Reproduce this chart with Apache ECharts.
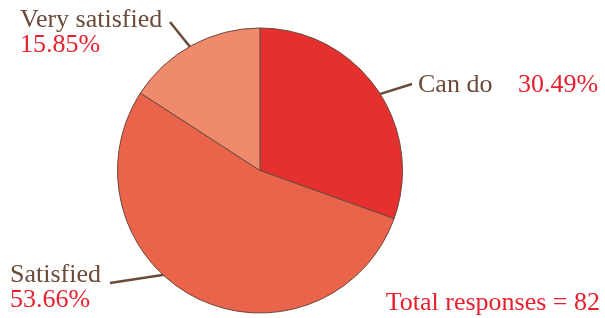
<!DOCTYPE html>
<html>
<head>
<meta charset="utf-8">
<script src="https://cdn.jsdelivr.net/npm/echarts@6/dist/echarts.min.js"></script>
<style>html,body{margin:0;padding:0;background:#fff}#c{width:605px;height:318px}</style>
</head>
<body>
<div id="c"></div>
<script>
const categories = ['Can do', 'Satisfied', 'Very satisfied'];
const responses = [25, 44, 13];
const totalLabel = 'Total responses = ';

const sliceColors = ['#E6302F', '#E9644A', '#EF8A6D'];
const brown = '#6B4A3A';
const red = '#E8202E';
const FONT = 'Liberation Serif';
const CX = 260, CY = 170.5, R = 142.5;

// label placement (styling/positions only)
const labelPlace = [
  { x: 418, y: 73, anchorAngle: 57, anchorR: 138, end: [412, 84] },
  { x: 10, y: 263, anchorAngle: 220, anchorR: 134, end: [110, 283] },
  { x: 20, y: 8, anchorAngle: 331, anchorR: 135, end: [170, 22] }
];

const total = responses.reduce((a, b) => a + b, 0);
const chart = echarts.init(document.getElementById('c'), null, { renderer: 'canvas' });

chart.setOption({
  animation: false,
  backgroundColor: '#fff',
  title: {
    text: totalLabel + total,
    right: 0,
    top: 285,
    textStyle: { fontFamily: FONT, fontSize: 26, fontWeight: 'normal', color: red, lineHeight: 26 }
  },
  series: [{
    type: 'pie',
    center: [CX, CY],
    radius: R,
    startAngle: 90,
    clockwise: true,
    percentPrecision: 2,
    data: categories.map((c, i) => ({
      name: c,
      value: responses[i],
      itemStyle: { color: sliceColors[i] }
    })),
    itemStyle: { borderColor: brown, borderWidth: 1 },
    label: {
      show: true,
      position: 'outside',
      overflow: 'none',
      fontFamily: FONT,
      formatter: function (p) {
        const pct = p.percent.toFixed(2) + '%';
        if (p.dataIndex === 0) return '{w|' + p.name + '}{p|' + pct + '}';
        return '{n|' + p.name + '}\n{p|' + pct + '}';
      },
      rich: {
        n: { fontFamily: FONT, fontSize: 26, lineHeight: 25, color: brown },
        w: { fontFamily: FONT, fontSize: 26, lineHeight: 25, color: brown, width: 100 },
        p: { fontFamily: FONT, fontSize: 26, lineHeight: 25, color: red }
      }
    },
    labelLine: {
      show: true,
      lineStyle: { color: brown, width: 2.5 }
    },
    labelLayout: function (params) {
      const L = labelPlace[params.dataIndex];
      const a = L.anchorAngle * Math.PI / 180;
      const start = [CX + L.anchorR * Math.sin(a), CY - L.anchorR * Math.cos(a)];
      return {
        x: L.x,
        y: L.y,
        align: 'left',
        verticalAlign: 'top',
        width: 300,
        labelLinePoints: [start, L.end, L.end]
      };
    }
  }]
});
</script>
</body>
</html>
